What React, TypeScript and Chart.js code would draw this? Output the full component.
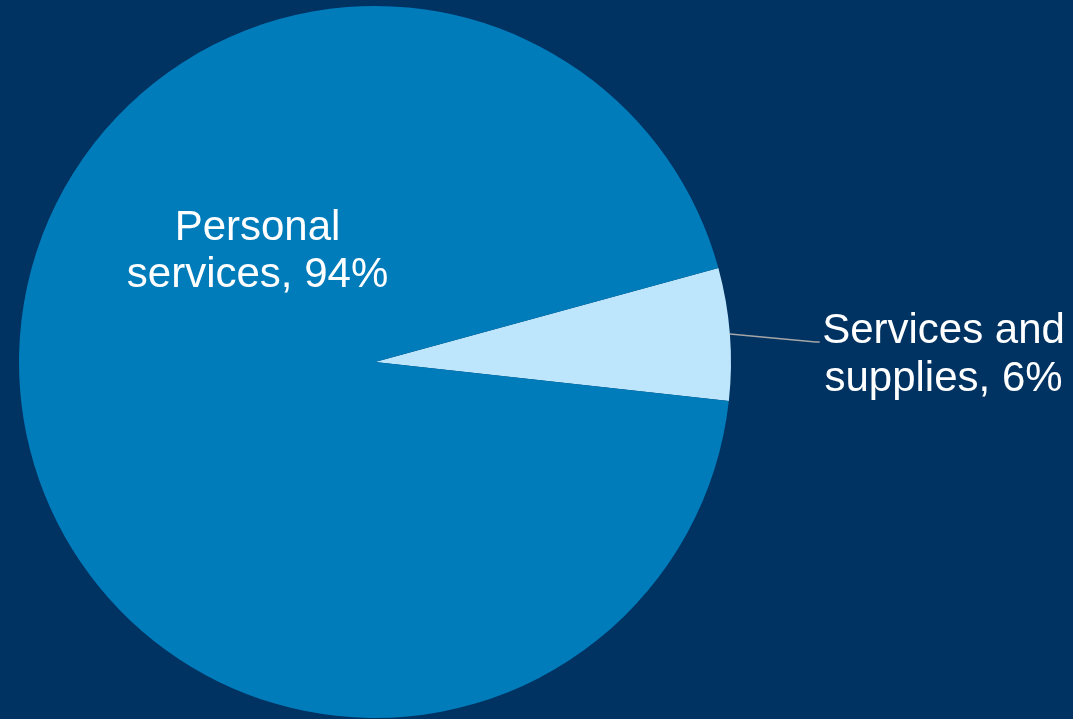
import React, { useEffect, useRef } from "react";
import { Chart, registerables } from "chart.js";

Chart.register(...registerables);

const categories = ["Services and supplies", "Personal services"];
const values = [6, 94];
const labelLines = [["Services and", "supplies, 6%"], ["Personal", "services, 94%"]];
const colors = ["#BDE6FD", "#007CBA"];
const BG = "#003262";

const labelPlugin = {
  id: "pieLabels",
  afterDatasetsDraw(chart: any) {
    const ctx = chart.ctx;
    const meta = chart.getDatasetMeta(0);
    ctx.save();
    ctx.fillStyle = "#FFFFFF";
    ctx.font = "42px 'Liberation Sans', Arial, sans-serif";
    ctx.textAlign = "center";
    ctx.textBaseline = "alphabetic";
    meta.data.forEach((arc: any, i: number) => {
      const { x, y, outerRadius, startAngle, endAngle } = arc.getProps(
        ["x", "y", "outerRadius", "startAngle", "endAngle"],
        true
      );
      const lines = labelLines[i];
      if (i === 0) {
        const mid = (startAngle + endAngle) / 2;
        const px = x + outerRadius * Math.cos(mid);
        const py = y + outerRadius * Math.sin(mid);
        const ex = x + outerRadius * 1.238;
        const ey = y - outerRadius * 0.056;
        ctx.strokeStyle = "#A6A6A6";
        ctx.lineWidth = 1.5;
        ctx.beginPath();
        ctx.moveTo(px, py);
        ctx.lineTo(ex, ey);
        ctx.lineTo(ex + 4, ey);
        ctx.stroke();
        const cx = x + outerRadius * 1.597;
        ctx.fillText(lines[0], cx, y - outerRadius * 0.053);
        ctx.fillText(lines[1], cx, y + outerRadius * 0.082);
      } else {
        const cx = x - outerRadius * 0.33;
        ctx.fillText(lines[0], cx, y - outerRadius * 0.344);
        ctx.fillText(lines[1], cx, y - outerRadius * 0.211);
      }
    });
    ctx.restore();
  },
};

export default function App() {
  const ref = useRef<HTMLCanvasElement>(null);
  useEffect(() => {
    if (!ref.current) return;
    const chart = new Chart(ref.current, {
      type: "pie",
      data: {
        labels: categories,
        datasets: [
          {
            data: values,
            backgroundColor: colors,
            borderWidth: 0,
          },
        ],
      },
      options: {
        animation: false,
        responsive: false,
        rotation: 74.7,
        layout: { padding: { left: 19, right: 342, top: 6, bottom: 1 } },
        plugins: {
          legend: { display: false },
          tooltip: { enabled: false },
        },
      },
      plugins: [labelPlugin],
    });
    return () => chart.destroy();
  }, []);
  return (
    <div style={{ position: "fixed", left: 0, top: 0, width: 1073, height: 719, background: BG }}>
      <canvas ref={ref} width={1073} height={719} style={{ display: "block" }} />
    </div>
  );
}
